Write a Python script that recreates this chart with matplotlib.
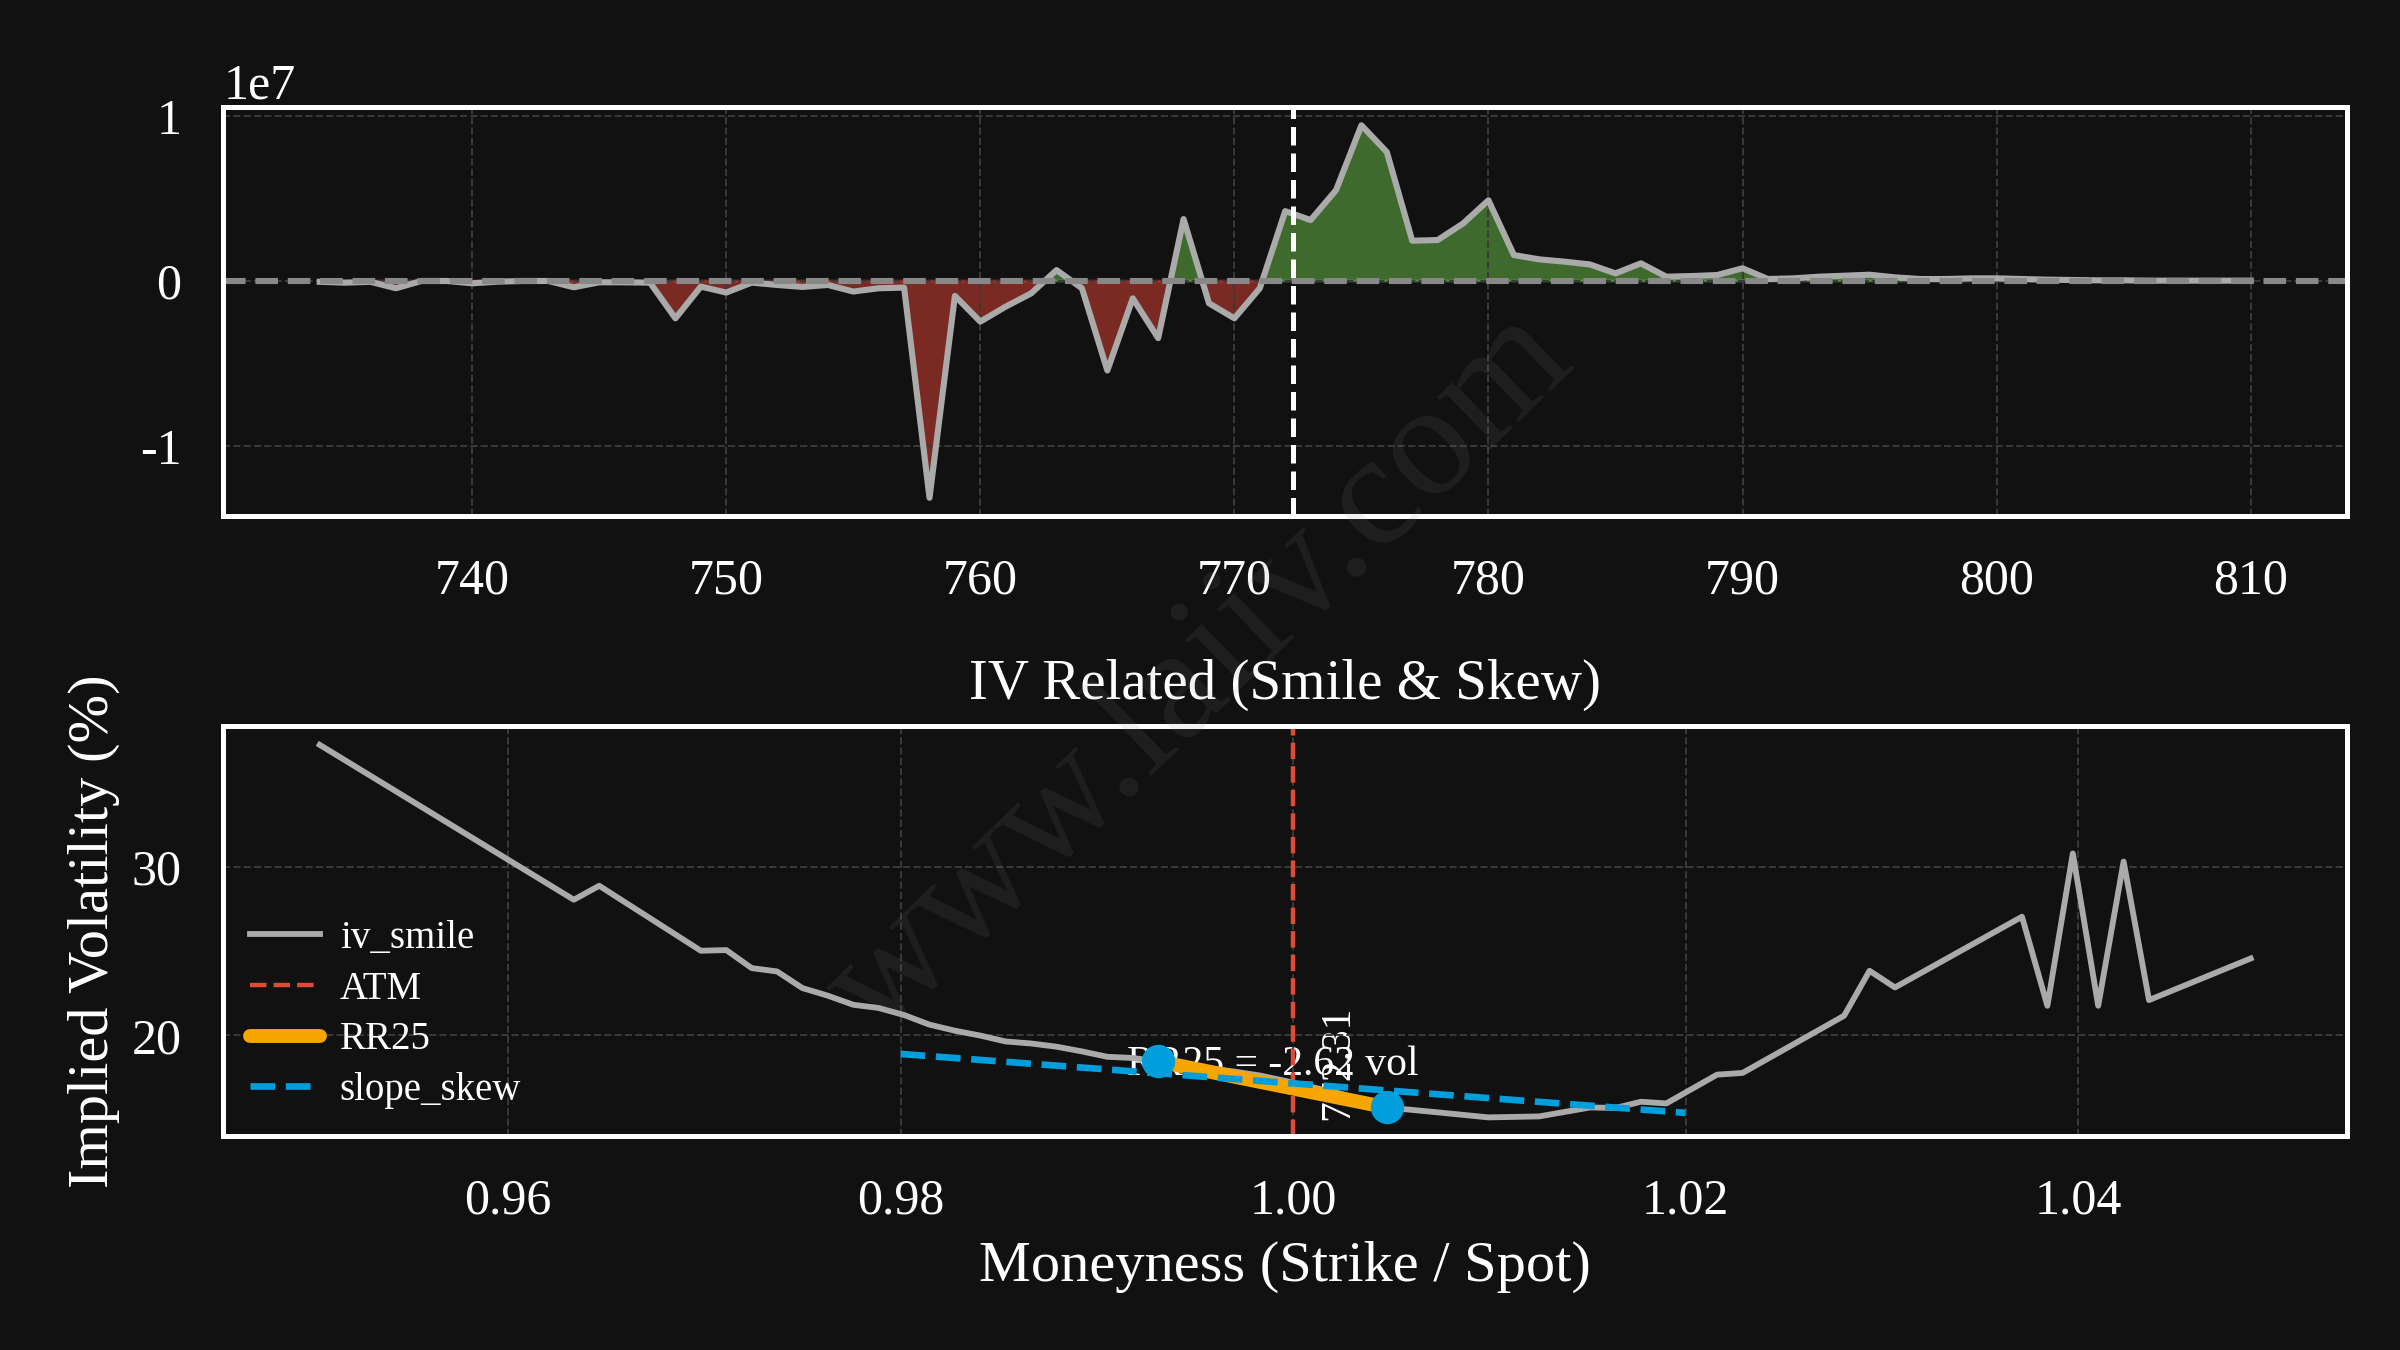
import numpy as np
import matplotlib
matplotlib.use('Agg')
import matplotlib.pyplot as plt
import matplotlib.transforms as mtransforms

# ---- data ----
spot = 772.31

strikes = list(range(734, 811))
# net exposure per strike, in units of 1e7
net_exp = [
    -0.005, -0.010, -0.005, -0.044, 0.000, 0.000, -0.014, -0.004, 0.000, 0.000,   # 734-743
    -0.038, -0.008, -0.008, -0.010, -0.226, -0.034, -0.070, -0.010, -0.024, -0.036,  # 744-753
    -0.024, -0.064, -0.044, -0.040, -1.313, -0.090, -0.246, -0.155, -0.075, 0.066,  # 754-763
    -0.044, -0.542, -0.105, -0.346, 0.375, -0.135, -0.226, -0.044, 0.423, 0.369,    # 764-773
    0.550, 0.943, 0.781, 0.244, 0.248, 0.348, 0.489, 0.157, 0.131, 0.117,           # 774-783
    0.100, 0.046, 0.107, 0.026, 0.030, 0.036, 0.077, 0.012, 0.016, 0.026,           # 784-793
    0.032, 0.038, 0.022, 0.012, 0.012, 0.016, 0.016, 0.012, 0.008, 0.006,           # 794-803
    0.004, 0.004, 0.002, 0.002, 0.002, 0.002, 0.002,                                # 804-810
]

iv_strikes = [734, 744, 745, 749, 750, 751, 752, 753, 754, 755, 756, 757, 758, 759,
              760, 761, 762, 763, 764, 765, 766, 767, 768, 769, 770, 771, 772, 773,
              774, 775, 776, 778, 780, 782, 784, 785, 786, 787, 789, 790, 794, 795,
              796, 801, 802, 803, 804, 805, 806, 810]
iv_smile = [37.26, 28.06, 28.89, 25.03, 25.07, 24.00, 23.80, 22.81, 22.36, 21.82,
            21.63, 21.21, 20.64, 20.28, 19.99, 19.64, 19.52, 19.33, 19.05, 18.73,
            18.66, 18.46, 18.25, 18.05, 17.85, 17.62, 17.30, 16.95, 16.60, 16.20,
            15.72, 15.43, 15.13, 15.19, 15.72, 15.69, 16.06, 15.96, 17.67, 17.77,
            21.17, 23.84, 22.85, 27.05, 21.76, 30.81, 21.76, 30.33, 22.10, 24.57]

rr_strikes = [767, 776]
rr_iv = [18.46, 15.72]
rr25 = -2.62

skew_x = [0.98, 1.02]
skew_y = [18.90, 15.40]

# ---- style ----
bg = '#111111'
plt.rcParams['font.family'] = ['Liberation Serif', 'DejaVu Serif']
plt.rcParams['axes.unicode_minus'] = False
plt.rcParams['text.color'] = 'white'

fig, (ax1, ax2) = plt.subplots(2, 1, figsize=(12, 6.75), dpi=200)
fig.patch.set_facecolor(bg)
fig.subplots_adjust(left=0.093, right=0.978, top=0.921, bottom=0.1585, hspace=0.512)

for ax in (ax1, ax2):
    ax.set_facecolor(bg)
    for s in ax.spines.values():
        s.set_color('white')
        s.set_linewidth(1.8)
    ax.grid(True, color='#3a3a3a', linestyle='--', linewidth=0.7)
    ax.tick_params(colors='white', labelsize=18, length=0)
    ax.tick_params(axis='x', pad=15)
    ax.tick_params(axis='y', pad=15)

# top: net exposure by strike
k = np.array(strikes)
y = np.array(net_exp) * 1e7
ax1.fill_between(k, y, 0, where=y >= 0, interpolate=True, color='#6ec34b', alpha=0.5)
ax1.fill_between(k, y, 0, where=y < 0, interpolate=True, color='#e34333', alpha=0.5)
ax1.plot(k, y, color='#aaaaaa', linewidth=2.2)
ax1.axhline(0, color='#888888', linestyle='--', linewidth=2.2)
ax1.axvline(spot, color='white', linestyle='--', linewidth=1.8)
ax1.yaxis.get_offset_text().set_fontsize(18)
ax1.yaxis.get_offset_text().set_color('white')

# bottom: IV smile & skew
m = np.array(iv_strikes) / spot
rr_m = np.array(rr_strikes) / spot
ax2.plot(m, iv_smile, color='#aaaaaa', linewidth=2.1, label='iv_smile')
ax2.axvline(1.0, color='#e04b35', linestyle='--', linewidth=1.6, label='ATM')
ax2.plot(rr_m, rr_iv, color='#f7a600', linewidth=5, solid_capstyle='round', label='RR25')
ax2.plot(rr_m, rr_iv, 'o', color='#009fdc', markersize=11)
ax2.plot(skew_x, skew_y, color='#009fdc', linestyle='--', linewidth=2.4, label='slope_skew')
ax2.text(rr_m.mean(), np.mean(rr_iv), f'RR25 = {rr25:.2f} vol', ha='center', va='bottom',
         fontsize=15, color='white', zorder=1.5)
trans = mtransforms.blended_transform_factory(ax2.transData, ax2.transAxes)
ax2.text(1.0013, 0.04, f'{spot:.2f}', rotation=90, ha='left', va='bottom',
         fontsize=15, color='white', transform=trans, zorder=1.5)
ax2.set_title('IV Related (Smile & Skew)', color='white', fontsize=20.5, pad=10)
ax2.set_xlabel('Moneyness (Strike / Spot)', color='white', fontsize=21, labelpad=6)
ax2.set_ylabel('Implied Volatility (%)', color='white', fontsize=21)
ax2.legend(loc='lower left', frameon=False, fontsize=14, labelspacing=0.35,
           handlelength=1.8, handletextpad=0.5, borderaxespad=0.3, labelcolor='white')

fig.text(0.5, 0.5, 'www.laiiv.com', rotation=44, ha='center', va='center',
         fontsize=58, color='#888888', alpha=0.12, family='Liberation Serif')

plt.savefig('out.png', facecolor=bg)
